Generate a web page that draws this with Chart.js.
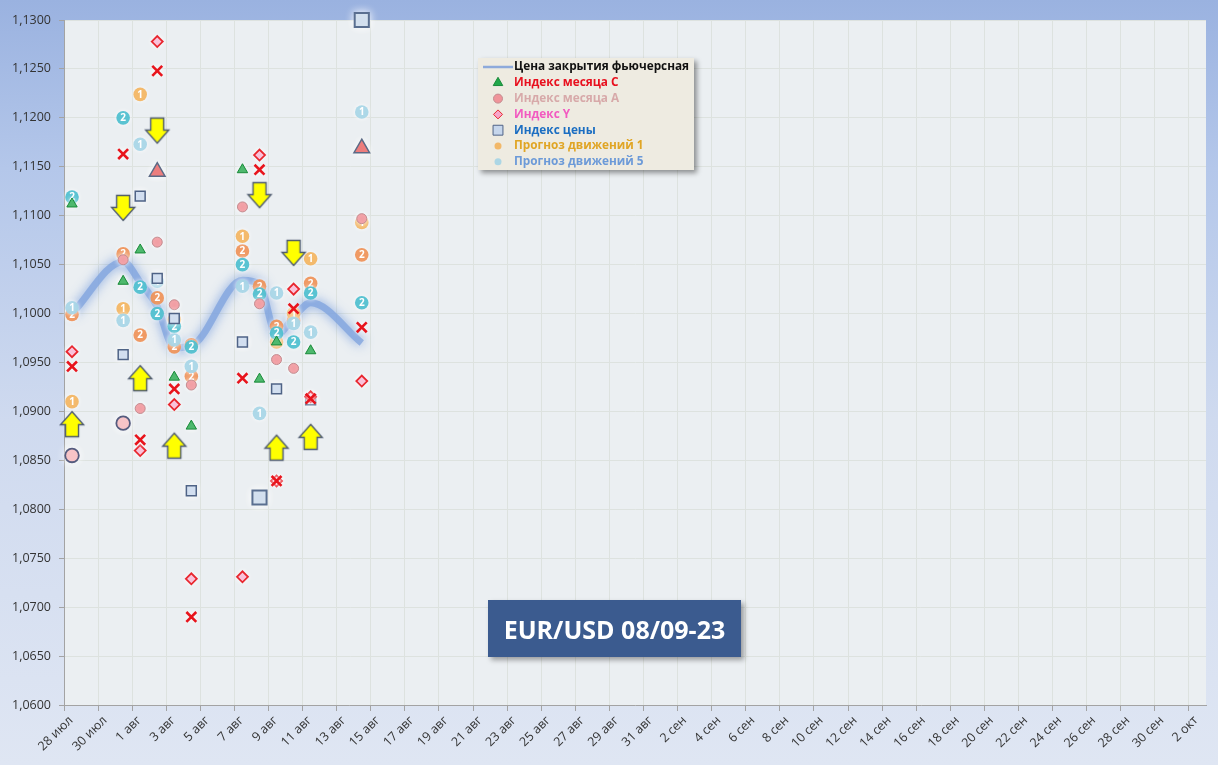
<!DOCTYPE html>
<html>
<head>
<meta charset="utf-8">
<script src="https://cdn.jsdelivr.net/npm/chart.js@4.4.0/dist/chart.umd.min.js"></script>
<style>
    html, body { margin: 0; padding: 0; }
    body {
        width: 1218px; height: 765px; overflow: hidden; position: relative;
        background: linear-gradient(180deg, #9ab2e0 0%, #b4c7ea 22%, #cfdaef 55%, #dfe6f3 100%);
        font-family: 'Open Sans', sans-serif;
    }
    .chartBox { position: absolute; left: 0; top: 0; width: 1218px; height: 765px; }
    .tag {
        position: absolute; left: 488px; top: 600px; width: 253px; height: 57px;
        background: #3b5b8f; color: #fff; font: bold 25px 'Open Sans', sans-serif;
        display: flex; align-items: center; justify-content: center;
        box-shadow: 3px 3px 5px rgba(0,0,0,0.35);
    }
</style>
</head>
<body>

<div class="chartBox">
    <canvas id="myChart" width="1218" height="765"></canvas>
</div>
<div class="tag">EUR/USD 08/09-23</div>

<script>
// trading days and their offset (days since 28 июл)
const dates = ['28 июл', '31 июл', '1 авг', '2 авг', '3 авг', '4 авг', '7 авг', '8 авг', '9 авг', '10 авг', '11 авг', '14 авг'];
const dayNum = [0, 3, 4, 5, 6, 7, 10, 11, 12, 13, 14, 17];
const dayTime = 0.47;

const tickLabels = ['28 июл', '30 июл', '1 авг', '3 авг', '5 авг', '7 авг', '9 авг', '11 авг', '13 авг', '15 авг',
    '17 авг', '19 авг', '21 авг', '23 авг', '25 авг', '27 авг', '29 авг', '31 авг', '2 сен', '4 сен', '6 сен',
    '8 сен', '10 сен', '12 сен', '14 сен', '16 сен', '18 сен', '20 сен', '22 сен', '24 сен', '26 сен', '28 сен',
    '30 сен', '2 окт'];

// series (one value per trading day, null = no mark, array = several marks)
const closePrice = [1.1000, 1.1053, 1.1032, 1.1007, 1.0965, 1.0967, 1.1034, 1.1030, 1.0978, 1.0996, 1.1011, 1.0970];
const monthC     = [1.1112, 1.1033, 1.1065, null, 1.0935, 1.0885, 1.1147, 1.0933, 1.0971, null, 1.0962, null];
const monthA     = [null, 1.1055, 1.0903, 1.1073, 1.1009, 1.0927, 1.1109, 1.1010, 1.0953, 1.0944, 1.0912, 1.1097];
const indexY     = [1.0961, null, 1.0860, 1.1278, 1.0907, 1.0729, 1.0731, 1.1162, 1.0829, 1.1025, 1.0915, 1.0931];
const priceIdx   = [null, 1.0958, 1.1120, 1.1036, 1.0995, 1.0819, 1.0971, null, 1.0923, null, 1.0912, null];
const forecast1  = [1.0910, 1.1005, 1.1224, null, 1.0994, null, 1.1079, null, 1.0971, 1.1000, 1.1056, 1.1093];
const forecast5  = [1.1006, 1.0993, 1.1173, 1.1033, 1.0973, 1.0946, 1.1028, 1.0898, 1.1021, 1.0990, 1.0981, 1.1206];
const forecast2o = [1.0999, 1.1061, 1.0978, 1.1016, 1.0966, [1.0968, 1.0936], 1.1064, 1.1028, 1.0987, 1.0993, 1.1031, 1.1060];
const forecast2t = [1.1119, 1.1200, 1.1027, 1.1000, 1.0987, 1.0966, 1.1050, 1.1020, 1.0980, 1.0971, 1.1021, 1.1011];
const crossMark  = [1.0946, 1.1163, 1.0871, 1.1248, 1.0923, 1.0690, 1.0934, 1.1147, 1.0829, 1.1005, 1.0913, 1.0986];
const bigTri     = [null, null, null, 1.1145, null, null, null, null, null, null, null, 1.1169];
const bigCircle  = [1.0855, 1.0888, null, null, null, null, null, null, null, null, null, null];
const bigSquare  = [null, null, null, null, null, null, null, 1.0812, null, null, null, 1.1300];
const arrowUp    = [1.0887, null, 1.0934, null, 1.0865, null, null, null, 1.0863, null, 1.0874, null];
const arrowDown  = [null, 1.1108, null, 1.1187, null, null, null, 1.1121, null, 1.1062, null, null];

function pts(arr) {
    const out = [];
    arr.forEach(function(v, i) {
        if (v == null) return;
        [].concat(v).forEach(function(y) { out.push({ x: dayNum[i] + dayTime, y: y }); });
    });
    return out;
}

function makeArrow(up) {
    const c = document.createElement('canvas');
    c.width = 28; c.height = 30;
    const g = c.getContext('2d');
    g.translate(14, 15);
    if (!up) g.scale(1, -1);
    g.beginPath();
    g.moveTo(0, -12.5);
    g.lineTo(11.5, 0.5);
    g.lineTo(6.5, 0.5);
    g.lineTo(6.5, 12.5);
    g.lineTo(-6.5, 12.5);
    g.lineTo(-6.5, 0.5);
    g.lineTo(-11.5, 0.5);
    g.closePath();
    g.fillStyle = '#ffff00';
    g.fill();
    g.lineWidth = 1.4;
    g.strokeStyle = '#4d5a6e';
    g.stroke();
    return c;
}

const WHITE_GLOW = 'rgba(255,255,255,0.95)';

const datasets = [
    { label: 'Цена закрытия фьючерсная', data: pts(closePrice), showLine: true, pointRadius: 0,
      borderColor: 'rgba(130,165,222,0.8)', borderWidth: 7, cubicInterpolationMode: 'monotone',
      glow: 'rgba(80,130,215,0.85)', glowBlur: 11, order: 20,
      legendText: '#111111', legendMarker: 'line', legendColor: '#8eaadb' },
    { label: 'Индекс месяца C', data: pts(monthC), pointStyle: 'triangle', pointRadius: 6,
      backgroundColor: '#22a84a', borderColor: '#1a8a3a', borderWidth: 1,
      glow: WHITE_GLOW, glowBlur: 5, order: 5,
      legendText: '#e8101e', legendRadius: 5.5 },
    { label: 'Индекс месяца A', data: pts(monthA), pointStyle: 'circle', pointRadius: 5,
      backgroundColor: '#f0949a', borderColor: '#c38c90', borderWidth: 1,
      glow: WHITE_GLOW, glowBlur: 5, order: 7,
      legendText: '#d7a9a9', legendRadius: 4.5 },
    { label: 'Индекс Y', data: pts(indexY), pointStyle: 'rectRot', pointRadius: 5.5,
      backgroundColor: '#f7a6c9', borderColor: '#e8262e', borderWidth: 1.8,
      glow: WHITE_GLOW, glowBlur: 5, order: 4,
      legendText: '#f25ac0', legendRadius: 4.5 },
    { label: 'Индекс цены', data: pts(priceIdx), pointStyle: 'rect', pointRadius: 7,
      backgroundColor: '#c6d6ec', borderColor: '#4f6386', borderWidth: 1.5,
      glow: WHITE_GLOW, glowBlur: 6, order: 6,
      legendText: '#1b6ec2', legendRadius: 7 },
    { label: 'Прогноз движений 1', data: pts(forecast1), pointStyle: 'circle', pointRadius: 6.8,
      backgroundColor: 'rgba(242,176,88,0.88)', borderWidth: 0, digit: '1',
      glow: WHITE_GLOW, glowBlur: 4, order: 11,
      legendText: '#e0a524', legendRadius: 3.5 },
    { label: 'Прогноз движений 5', data: pts(forecast5), pointStyle: 'circle', pointRadius: 6.8,
      backgroundColor: 'rgba(164,212,230,0.9)', borderWidth: 0, digit: '1',
      glow: WHITE_GLOW, glowBlur: 4, order: 8,
      legendText: '#6c9ad8', legendRadius: 3.5 },
    { label: 'Прогноз движений 2', data: pts(forecast2o), pointStyle: 'circle', pointRadius: 6.8,
      backgroundColor: 'rgba(238,140,78,0.88)', borderWidth: 0, digit: '2',
      glow: WHITE_GLOW, glowBlur: 4, order: 12 },
    { label: 'Прогноз движений 3', data: pts(forecast2t), pointStyle: 'circle', pointRadius: 6.8,
      backgroundColor: 'rgba(72,188,205,0.9)', borderWidth: 0, digit: '2',
      glow: WHITE_GLOW, glowBlur: 4, order: 9 },
    { label: 'Крест', data: pts(crossMark), pointStyle: 'crossRot', pointRadius: 7,
      borderColor: '#e8141c', borderWidth: 2.6,
      glow: WHITE_GLOW, glowBlur: 5, order: 3 },
    { label: 'C тек', data: pts(bigTri), pointStyle: 'triangle', pointRadius: 9,
      backgroundColor: '#e85a5a', borderColor: '#5b6a86', borderWidth: 1.5,
      glow: WHITE_GLOW, glowBlur: 7, order: 1 },
    { label: 'A тек', data: pts(bigCircle), pointStyle: 'circle', pointRadius: 6.8,
      backgroundColor: '#f5b6ba', borderColor: '#545b7e', borderWidth: 1.8,
      glow: WHITE_GLOW, glowBlur: 8, order: 1 },
    { label: 'Цена тек', data: pts(bigSquare), pointStyle: 'rect', pointRadius: 10,
      backgroundColor: '#c8d8ea', borderColor: '#5a6f90', borderWidth: 2,
      glow: WHITE_GLOW, glowBlur: 8, order: 1 },
    { label: 'Вверх', data: pts(arrowUp), pointStyle: makeArrow(true), order: 0 },
    { label: 'Вниз', data: pts(arrowDown), pointStyle: makeArrow(false), order: 0 }
];

// plot area fill
const plotBg = {
    id: 'plotBg',
    beforeDraw(chart) {
        const a = chart.chartArea, ctx = chart.ctx;
        ctx.save();
        ctx.fillStyle = '#ebeff2';
        ctx.fillRect(a.left, a.top, a.right - a.left, a.bottom - a.top);
        ctx.restore();
    }
};

// glow around marks
const glow = {
    id: 'glow',
    beforeDatasetDraw(chart, args) {
        const ds = chart.data.datasets[args.index];
        chart.ctx.save();
        if (ds.glow) {
            chart.ctx.shadowColor = ds.glow;
            chart.ctx.shadowBlur = ds.glowBlur;
        }
    },
    afterDatasetDraw(chart) {
        chart.ctx.restore();
    }
};

// numbers inside the forecast circles
const digits = {
    id: 'digits',
    afterDatasetDraw(chart, args) {
        const ds = chart.data.datasets[args.index];
        if (!ds.digit) return;
        const ctx = chart.ctx;
        ctx.save();
        ctx.font = 'bold 10px "Open Sans"';
        ctx.fillStyle = '#ffffff';
        ctx.textAlign = 'center';
        ctx.textBaseline = 'middle';
        args.meta.data.forEach(function(p) { ctx.fillText(ds.digit, p.x, p.y + 0.5); });
        ctx.restore();
    }
};

// legend box inside the plot
const legendBox = {
    id: 'legendBox',
    afterDraw(chart, args, opts) {
        const ctx = chart.ctx;
        ctx.save();
        ctx.shadowColor = 'rgba(0,0,0,0.4)';
        ctx.shadowBlur = 5;
        ctx.shadowOffsetX = 3;
        ctx.shadowOffsetY = 3;
        ctx.fillStyle = '#eeebe1';
        ctx.fillRect(opts.x, opts.y, opts.w, opts.h);
        ctx.restore();

        let row = 0;
        chart.data.datasets.forEach(function(ds) {
            if (!ds.legendText) return;
            const cy = opts.y + 9 + row * opts.rowH;
            const mx = opts.x + 20;
            ctx.save();
            if (ds.legendMarker === 'line') {
                ctx.strokeStyle = ds.legendColor;
                ctx.lineWidth = 2.5;
                ctx.beginPath();
                ctx.moveTo(opts.x + 5, cy);
                ctx.lineTo(opts.x + 35, cy);
                ctx.stroke();
            } else {
                ctx.fillStyle = ds.backgroundColor;
                ctx.strokeStyle = ds.borderColor || ds.backgroundColor;
                Chart.helpers.drawPoint(ctx, {
                    pointStyle: ds.pointStyle, rotation: 0,
                    radius: ds.legendRadius, borderWidth: ds.borderWidth
                }, mx, cy);
            }
            ctx.font = 'bold 11.8px "Open Sans"';
            ctx.fillStyle = ds.legendText;
            ctx.textBaseline = 'middle';
            ctx.fillText(ds.label, opts.x + 36, cy);
            ctx.restore();
            row++;
        });
    }
};

const config = {
    type: 'scatter',
    data: { datasets: datasets },
    options: {
        responsive: false,
        animation: false,
        devicePixelRatio: 1,
        layout: { padding: { top: 20, right: 10, left: 0, bottom: 0 } },
        plugins: {
            legend: { display: false },
            tooltip: { enabled: false },
            legendBox: { x: 478, y: 58, w: 216, h: 112, rowH: 15.8 }
        },
        elements: { point: { hoverRadius: 0 } },
        datasets: { scatter: { clip: false } },
        scales: {
            x: {
                type: 'linear',
                min: 0,
                max: 67,
                afterFit: function(s) { s.height = 60; },
                border: { color: '#a3a3a3' },
                grid: { color: '#dde2df', tickLength: 6, tickColor: '#a3a3a3' },
                ticks: {
                    stepSize: 2,
                    includeBounds: false,
                    autoSkip: false,
                    minRotation: 45,
                    maxRotation: 45,
                    labelOffset: 7,
                    padding: 2,
                    color: '#333333',
                    font: { family: 'Open Sans', size: 12.5 },
                    callback: function(v) { return tickLabels[Math.round(v / 2)]; }
                }
            },
            y: {
                min: 1.06,
                max: 1.13,
                afterFit: function(s) { s.width = 64; },
                border: { color: '#a3a3a3' },
                grid: { color: '#dde2df', tickLength: 5, tickColor: '#a3a3a3' },
                ticks: {
                    stepSize: 0.005,
                    padding: 8,
                    color: '#333333',
                    font: { family: 'Open Sans', size: 12.5 },
                    callback: function(v) { return v.toFixed(4).replace('.', ','); }
                }
            }
        }
    },
    plugins: [plotBg, glow, digits, legendBox]
};

const myChart = new Chart(document.getElementById('myChart'), config);
</script>
</body>
</html>
